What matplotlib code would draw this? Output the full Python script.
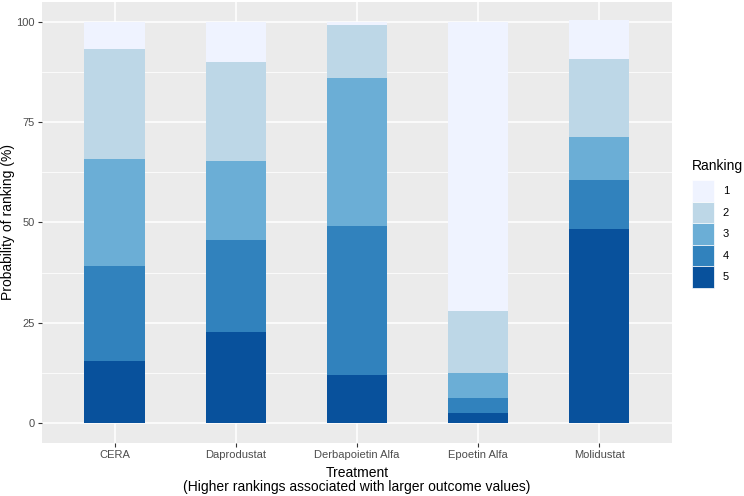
import numpy as np
import matplotlib.pyplot as plt
from matplotlib.patches import Patch

plt.rcParams['font.family'] = ['Liberation Sans', 'DejaVu Sans']

# data (probability of each ranking, %)
treatments = ['CERA', 'Daprodustat', 'Derbapoietin Alfa', 'Epoetin Alfa', 'Molidustat']
rank_labels = ['1', '2', '3', '4', '5']
rank1 = [6.7, 10.0, 0.7, 72.0, 9.7]
rank2 = [27.5, 24.7, 13.2, 15.6, 19.6]
rank3 = [26.7, 19.7, 37.0, 6.2, 10.5]
rank4 = [23.6, 22.9, 37.1, 3.8, 12.3]
rank5 = [15.5, 22.7, 12.0, 2.4, 48.4]
colors = ['#EFF3FF', '#BDD7E7', '#6BAED6', '#3182BD', '#08519C']

fig = plt.figure(figsize=(7.44, 4.96), dpi=100)
ax = fig.add_axes([0.0565, 0.107, 0.8465, 0.889])
ax.set_facecolor('#EBEBEB')

x = np.arange(1, len(treatments) + 1)
# stack from rank 5 at the bottom up to rank 1 at the top
stack = [rank5, rank4, rank3, rank2, rank1]
stack_colors = colors[::-1]
bottom = np.zeros(len(treatments))
for vals, c in zip(stack, stack_colors):
    ax.bar(x, vals, bottom=bottom, width=0.5, color=c, zorder=3)
    bottom += np.array(vals)

ax.set_xlim(0.4, 5.6)
ax.set_ylim(-5, 105)
ax.set_xticks(x)
ax.set_xticklabels(treatments)
ax.set_yticks([0, 25, 50, 75, 100])
ax.set_yticks([12.5, 37.5, 62.5, 87.5], minor=True)

ax.grid(which='major', color='white', linewidth=1.1, zorder=0)
ax.grid(which='minor', axis='y', color='white', linewidth=0.55, zorder=0)
for s in ax.spines.values():
    s.set_visible(False)
ax.tick_params(axis='both', which='major', length=3, color='#333333',
               labelcolor='#4D4D4D', labelsize=8, pad=2.2)
ax.tick_params(which='minor', length=0)

ax.set_xlabel('Treatment\n(Higher rankings associated with larger outcome values)',
              fontsize=10, labelpad=4, linespacing=1.0)
ax.set_ylabel('Probability of ranking (%)', fontsize=10)
ax.yaxis.set_label_coords(-0.043, 0.5)

handles = [Patch(facecolor=c, edgecolor='white', linewidth=0.5) for c in colors]
leg = fig.legend(handles, rank_labels, title='Ranking', loc='upper left',
                 bbox_to_anchor=(0.922, 0.69), frameon=False, fontsize=8,
                 title_fontsize=10, handlelength=2.0, handleheight=2.6,
                 labelspacing=0.0, handletextpad=0.8, alignment='left',
                 borderpad=0)
leg._legend_box.sep = 5  # gap between legend title and keys

fig.savefig('out.png', dpi=100)
